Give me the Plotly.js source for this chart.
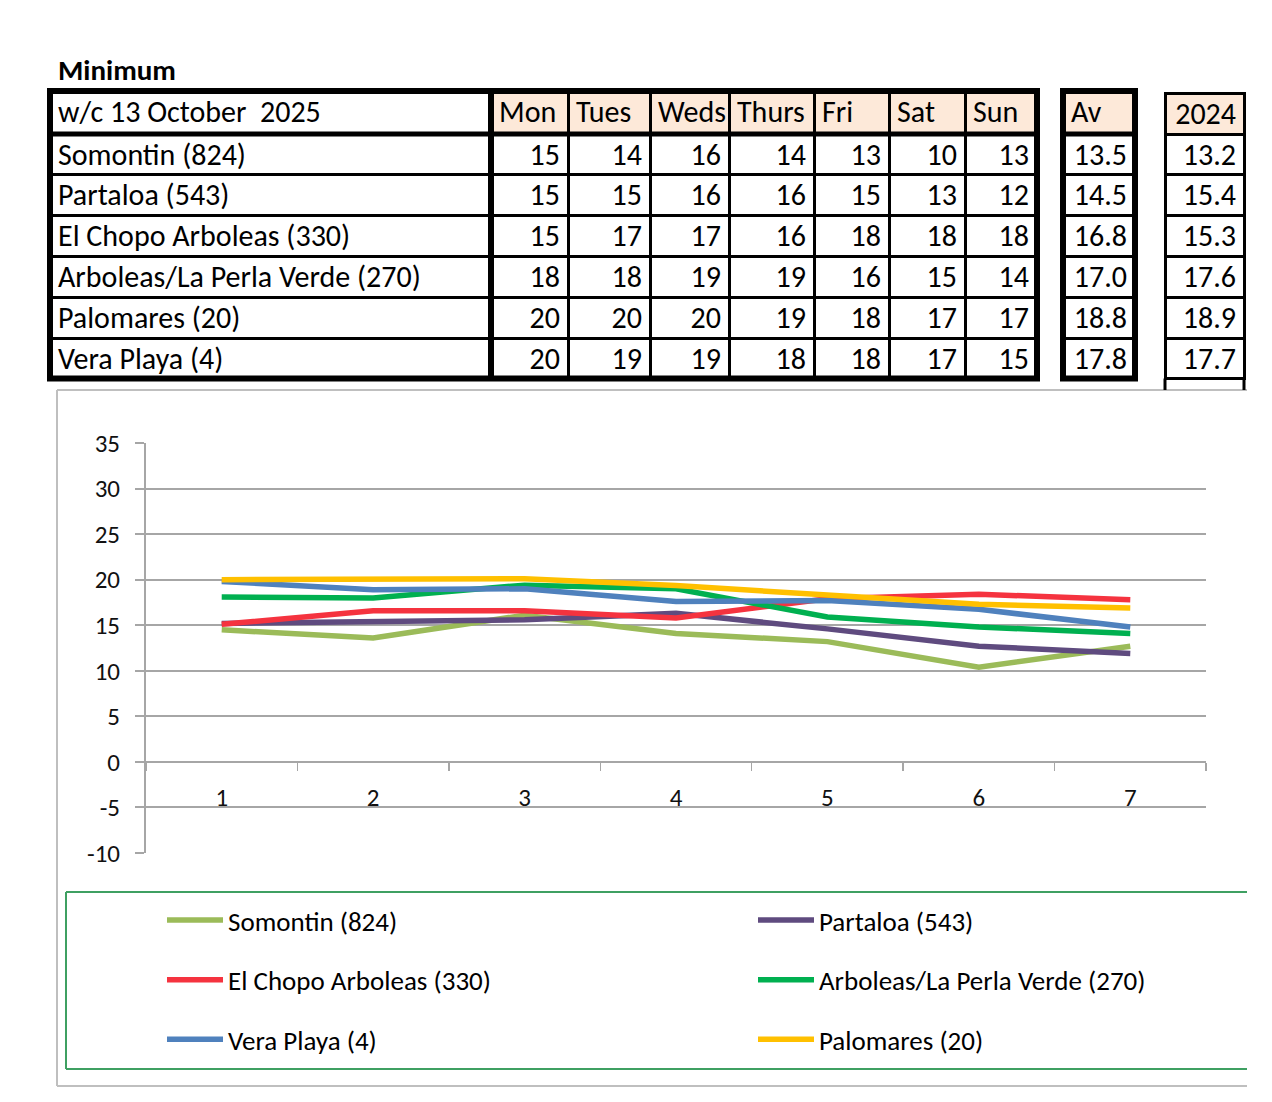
<!DOCTYPE html>
<html>
<head>
<meta charset="utf-8">
<script src="https://cdn.plot.ly/plotly-3.0.1.min.js"></script>
<style>
html,body{margin:0;padding:0;background:#fff;}
#chart{width:1272px;height:1102px;}
</style>
</head>
<body>
<div id="chart"></div>
<script>
// ---------- data ----------
const tableTitle = "Minimum";
const weekLabel = "w/c 13 October \u00a02025";
const days = ["Mon", "Tues", "Weds", "Thurs", "Fri", "Sat", "Sun"];
const dayNumbers = ["1", "2", "3", "4", "5", "6", "7"];
const stations = ["Somontin (824)", "Partaloa (543)", "El Chopo Arboleas (330)",
                  "Arboleas/La Perla Verde (270)", "Palomares (20)", "Vera Playa (4)"];
// table values (rounded, as printed)
const tblSomontin  = [15, 14, 16, 14, 13, 10, 13];
const tblPartaloa  = [15, 15, 16, 16, 15, 13, 12];
const tblElChopo   = [15, 17, 17, 16, 18, 18, 18];
const tblArboleas  = [18, 18, 19, 19, 16, 15, 14];
const tblPalomares = [20, 20, 20, 19, 18, 17, 17];
const tblVera      = [20, 19, 19, 18, 18, 17, 15];
const averages  = [13.5, 14.5, 16.8, 17.0, 18.8, 17.8];
const year2024  = [13.2, 15.4, 15.3, 17.6, 18.9, 17.7];
// plotted (unrounded) values
const somontin  = [14.5, 13.6, 16.1, 14.1, 13.2, 10.4, 12.7];
const partaloa  = [15.2, 15.4, 15.6, 16.3, 14.6, 12.7, 11.9];
const elChopo   = [15.1, 16.6, 16.6, 15.8, 17.9, 18.4, 17.8];
const arboleas  = [18.1, 18.0, 19.4, 19.0, 15.9, 14.8, 14.1];
const veraPlaya = [19.8, 18.9, 19.0, 17.6, 17.7, 16.75, 14.8];
const palomares = [20.0, 20.1, 20.1, 19.35, 18.25, 17.3, 16.9];
// y axis tick labels
const yTickVals = [-10, -5, 0, 5, 10, 15, 20, 25, 30, 35];
const yTickText = ["-10", "-5", "0", "5", "10", "15", "20", "25", "30", "35"];

// ---------- helpers ----------
const W = 1272, H = 1102;
const px = v => v / W;
const py = v => 1 - v / H;
const FONT = "Carlito, Lato, 'Open Sans', sans-serif";

const tableRows = [tblSomontin, tblPartaloa, tblElChopo, tblArboleas, tblPalomares, tblVera];
const dayColumns = days.map((d, i) => tableRows.map(r => r[i]));

const T_TOP = 91, T_BOT = 378.5, HDR_H = 43, ROW_H = 40.8;
const PEACH = "#FDE9D9";
const TFS = 30;

const mainTable = {
  type: "table",
  domain: {x: [px(50), px(1037)], y: [py(T_BOT + 2), py(T_TOP)]},
  columnwidth: [441, 77, 82, 79, 85, 75, 76, 72],
  header: {
    values: [weekLabel].concat(days),
    align: "left",
    height: HDR_H,
    fill: {color: ["#FFFFFF"].concat(days.map(() => PEACH))},
    line: {color: "#000", width: 3},
    font: {family: FONT, size: TFS, color: "#000"}
  },
  cells: {
    values: [stations].concat(dayColumns),
    align: ["left"].concat(days.map(() => "right")),
    height: ROW_H,
    fill: {color: "#FFFFFF"},
    line: {color: "#000", width: 3},
    font: {family: FONT, size: TFS, color: "#000"}
  }
};
const avTable = {
  type: "table",
  domain: {x: [px(1063), px(1135)], y: [py(T_BOT + 2), py(T_TOP)]},
  header: {values: ["Av"], align: "left", height: HDR_H, fill: {color: PEACH},
           line: {color: "#000", width: 3}, font: {family: FONT, size: TFS, color: "#000"}},
  cells: {values: [averages], format: [".1f"], align: "right", height: ROW_H, fill: {color: "#FFFFFF"},
          line: {color: "#000", width: 3}, font: {family: FONT, size: TFS, color: "#000"}}
};
const yTable = {
  type: "table",
  domain: {x: [px(1165), px(1244)], y: [py(T_BOT + 2), py(T_TOP + 2)]},
  header: {values: ["2024"], align: "right", height: HDR_H - 2, fill: {color: PEACH},
           line: {color: "#000", width: 3}, font: {family: FONT, size: TFS, color: "#000"}},
  cells: {values: [year2024], format: [".1f"], align: "right", height: ROW_H, fill: {color: "#FFFFFF"},
          line: {color: "#000", width: 3}, font: {family: FONT, size: TFS, color: "#000"}}
};

const seriesDefs = [
  {name: "Somontin (824)", y: somontin, color: "#9BBB59", legend: "legend"},
  {name: "Partaloa (543)", y: partaloa, color: "#5F4B7F", legend: "legend2"},
  {name: "El Chopo Arboleas (330)", y: elChopo, color: "#F5333F", legend: "legend"},
  {name: "Arboleas/La Perla Verde (270)", y: arboleas, color: "#00B050", legend: "legend2"},
  {name: "Vera Playa (4)", y: veraPlaya, color: "#4F81BD", legend: "legend"},
  {name: "Palomares (20)", y: palomares, color: "#FFC000", legend: "legend2"}
];
const lineTraces = seriesDefs.map(s => ({
  type: "scatter", mode: "lines", x: dayNumbers, y: s.y, name: s.name,
  line: {color: s.color, width: 5.5}, legend: s.legend, legendgroup: s.name,
  xaxis: "x", yaxis: "y"
}));

// chart geometry
const PLOT_L = 146, PLOT_R = 1206, PLOT_T = 443, PLOT_B = 853;
const Y_MIN = -10, Y_MAX = 35;
const zeroFrac = py(PLOT_B) + (0 - Y_MIN) / (Y_MAX - Y_MIN) * (py(PLOT_T) - py(PLOT_B));
const GRID = "#A6A6A6";

function seg(x0, y0, x1, y1, color, width) {
  return {type: "line", xref: "paper", yref: "paper", x0: px(x0), y0: py(y0), x1: px(x1), y1: py(y1),
          line: {color: color, width: width}, layer: "above"};
}
function box(x0, y0, x1, y1, color, width) {
  return {type: "rect", xref: "paper", yref: "paper", x0: px(x0), y0: py(y0), x1: px(x1), y1: py(y1),
          line: {color: color, width: width}, fillcolor: "rgba(0,0,0,0)", layer: "above"};
}

const shapes = [
  // chart area frame (gray)
  seg(57, 390, 1247, 390, "#BFBFBF", 2),
  seg(57, 390, 57, 1086, "#BFBFBF", 2),
  seg(57, 1086, 1247, 1086, "#BFBFBF", 2),
  // legend frame (green)
  seg(66, 892, 1247, 892, "#3FA062", 2),
  seg(66, 892, 66, 1069, "#3FA062", 2),
  seg(66, 1069, 1247, 1069, "#3FA062", 2),
  // table heavy borders
  box(50, T_TOP, 1037, T_BOT, "#000", 6),
  seg(491, T_TOP, 491, T_BOT, "#000", 6),
  seg(50, T_TOP + HDR_H, 1037, T_TOP + HDR_H, "#000", 5),
  box(1063, T_TOP, 1135, T_BOT, "#000", 6),
  seg(1063, T_TOP + HDR_H, 1135, T_TOP + HDR_H, "#000", 5),
  seg(1165, T_BOT, 1165, 390, "#000", 3),
  seg(1244, T_BOT, 1244, 390, "#000", 3)
];

const legendCommon = {
  orientation: "v", traceorder: "grouped", tracegroupgap: 21.5,
  font: {family: FONT, size: 27, color: "#000"},
  bgcolor: "rgba(0,0,0,0)", borderwidth: 0, itemwidth: 56,
  xanchor: "left", yanchor: "top", itemclick: false, itemdoubleclick: false
};

const layout = {
  width: W, height: H,
  margin: {l: 0, r: 0, t: 0, b: 0, pad: 0},
  paper_bgcolor: "#FFFFFF", plot_bgcolor: "rgba(0,0,0,0)",
  font: {family: FONT, color: "#000"},
  showlegend: true,
  xaxis: {
    type: "category", domain: [px(PLOT_L), px(PLOT_R)], anchor: "free", position: zeroFrac,
    range: [-0.5, 6.5], showline: true, linecolor: GRID, linewidth: 2.5,
    ticks: "outside", tickson: "boundaries", ticklen: 8, tickcolor: GRID, tickwidth: 1.5,
    showgrid: false, zeroline: false, tickfont: {family: FONT, size: 25, color: "#111"},
    ticklabelstandoff: 13, fixedrange: true
  },
  yaxis: {
    domain: [py(PLOT_B), py(PLOT_T)], range: [Y_MIN, Y_MAX],
    tickmode: "array", tickvals: yTickVals, ticktext: yTickText,
    anchor: "x", showgrid: true, gridcolor: GRID, gridwidth: 2,
    showline: true, linecolor: GRID, linewidth: 2, ticks: "outside", ticklen: 9,
    tickcolor: GRID, tickwidth: 2, zeroline: false,
    tickfont: {family: FONT, size: 25, color: "#111"}, ticklabelstandoff: 10, fixedrange: true
  },
  legend: Object.assign({}, legendCommon, {x: px(162), y: py(896)}),
  legend2: Object.assign({}, legendCommon, {x: px(753), y: py(896)}),
  annotations: [{
    xref: "paper", yref: "paper", x: px(56), y: py(70), xanchor: "left", yanchor: "middle",
    text: "<b>" + tableTitle + "</b>", showarrow: false,
    font: {family: FONT, size: 29, color: "#000"}
  }],
  shapes: shapes
};

Plotly.newPlot("chart", [mainTable, avTable, yTable].concat(lineTraces), layout,
  {displayModeBar: false, staticPlot: true, responsive: false});
</script>
</body>
</html>
